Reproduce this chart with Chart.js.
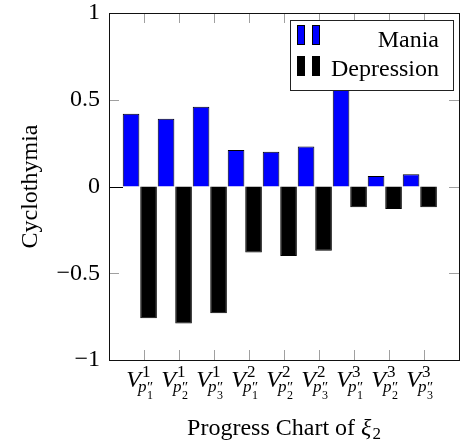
<!DOCTYPE html>
<html>
<head>
<meta charset="utf-8">
<script src="https://cdn.jsdelivr.net/npm/chart.js@4/dist/chart.umd.min.js"></script>
<style>
  body { margin: 0; background: #fff; }
  canvas { display: block; }
</style>
</head>
<body>
<canvas id="myChart" width="463" height="443"></canvas>
<script>
// positions of the groups on the x axis, and the pieces of the tick labels V^sup_{p''_sub}
var positions = [1, 2, 3, 4, 5, 6, 7, 8, 9];
var tickSup = ['1', '1', '1', '2', '2', '2', '3', '3', '3'];
var tickSub = ['1', '2', '3', '1', '2', '3', '1', '2', '3'];

var mania = [0.42, 0.39, 0.46, 0.21, 0.20, 0.23, 0.62, 0.06, 0.07];
var depression = [-0.76, -0.79, -0.73, -0.38, -0.40, -0.37, -0.12, -0.13, -0.12];

var yTicks = [-1, -0.5, 0, 0.5, 1];

var FONT = '"Liberation Serif", "DejaVu Serif", serif';

function toPoints(values) {
    return positions.map(function (x, i) { return { x: x, y: values[i] }; });
}

// ticks, frame, axis labels and legend in the pgfplots look
var pgfLook = {
    id: 'pgfLook',
    afterDatasetsDraw: function (chart) {
        var ctx = chart.ctx, a = chart.chartArea;
        var xs = chart.scales.x, ys = chart.scales.y;
        var L = Math.round(a.left), R = Math.round(a.right), T = Math.round(a.top), B = Math.round(a.bottom);
        ctx.save();
        ctx.lineWidth = 1;
        ctx.strokeStyle = '#a0a0a0';
        ctx.beginPath();
        yTicks.forEach(function (v) {
            if (v === -1 || v === 1) return;
            var y = Math.round(ys.getPixelForValue(v)) + 0.5;
            ctx.moveTo(R - 10, y); ctx.lineTo(R, y);
            if (v !== 0) { ctx.moveTo(L, y); ctx.lineTo(L + 10, y); }
        });
        positions.forEach(function (p) {
            var x = Math.round(xs.getPixelForValue(p)) + 4.5;
            ctx.moveTo(x, T); ctx.lineTo(x, T + 10);
            ctx.moveTo(x, B); ctx.lineTo(x, B - 10);
        });
        ctx.stroke();
        // zero tick on the left
        var y0 = Math.round(ys.getPixelForValue(0)) + 0.5;
        ctx.strokeStyle = '#000';
        ctx.beginPath();
        ctx.moveTo(L, y0); ctx.lineTo(L + 14, y0);
        ctx.stroke();
        // frame
        ctx.strokeStyle = '#111';
        ctx.strokeRect(L + 0.5, T + 0.5, R - L, B - T);

        // x tick labels
        ctx.fillStyle = '#000';
        ctx.textBaseline = 'alphabetic';
        ctx.textAlign = 'left';
        positions.forEach(function (p, i) {
            var cx = xs.getPixelForValue(p);
            var by = B + 27;
            ctx.font = 'italic 24px ' + FONT;
            var vw = ctx.measureText('V').width;
            ctx.font = '17px ' + FONT;
            var supW = ctx.measureText(tickSup[i]).width;
            ctx.font = 'italic 17px ' + FONT;
            var pw = ctx.measureText('p').width;
            ctx.font = '15px ' + FONT;
            var prW = ctx.measureText('\u2033').width;
            ctx.font = '12px ' + FONT;
            var ssW = ctx.measureText(tickSub[i]).width;
            var w = vw + Math.max(1 + supW, -3 + pw + 0.5 + Math.max(prW, ssW));
            var x0 = cx - w / 2;
            ctx.font = 'italic 24px ' + FONT;
            ctx.fillText('V', x0, by);
            ctx.font = '17px ' + FONT;
            ctx.fillText(tickSup[i], x0 + vw + 1, by - 10);
            var px = x0 + vw - 3;
            ctx.font = 'italic 17px ' + FONT;
            ctx.fillText('p', px, by + 5);
            ctx.font = '15px ' + FONT;
            ctx.fillText('\u2033', px + pw + 0.5, by + 5);
            ctx.font = '12px ' + FONT;
            ctx.fillText(tickSub[i], px + pw + 0.5, by + 12);
        });

        // x axis title: Progress Chart of xi_2
        var t1 = 'Progress Chart of ';
        ctx.font = '24px ' + FONT;
        var w1 = ctx.measureText(t1).width;
        ctx.font = 'italic 24px ' + FONT;
        var w2 = ctx.measureText('\u03be').width;
        ctx.font = '17px ' + FONT;
        var w3 = ctx.measureText('2').width;
        var tx = (L + R) / 2 - (w1 + w2 + 1 + w3) / 2, ty = 435;
        ctx.font = '24px ' + FONT;
        ctx.fillText(t1, tx, ty);
        ctx.font = 'italic 24px ' + FONT;
        ctx.fillText('\u03be', tx + w1, ty);
        ctx.font = '17px ' + FONT;
        ctx.fillText('2', tx + w1 + w2 + 1, ty + 4);

        // y axis title
        ctx.save();
        ctx.translate(37, (T + B) / 2);
        ctx.rotate(-Math.PI / 2);
        ctx.textAlign = 'center';
        ctx.font = '24px ' + FONT;
        ctx.fillText('Cyclothymia', 0, 0);
        ctx.restore();
        ctx.restore();
    },
    afterDraw: function (chart) {
        var ctx = chart.ctx;
        ctx.save();
        ctx.fillStyle = '#fff';
        ctx.fillRect(290, 20, 164, 71);
        ctx.strokeStyle = '#222';
        ctx.lineWidth = 1;
        ctx.strokeRect(290.5, 20.5, 163, 70);
        chart.data.datasets.forEach(function (ds, r) {
            var top = 25 + r * 31;
            [297, 312].forEach(function (x) {
                ctx.fillStyle = ds.backgroundColor;
                ctx.fillRect(x, top, 8, 20);
                ctx.strokeStyle = '#000';
                ctx.strokeRect(x + 0.5, top + 0.5, 7, 19);
            });
            ctx.fillStyle = '#000';
            ctx.font = '24px ' + FONT;
            ctx.textAlign = 'right';
            ctx.textBaseline = 'alphabetic';
            ctx.fillText(ds.label, 439, 46.5 + r * 29.5);
        });
        ctx.restore();
    }
};

var ctx = document.getElementById('myChart');

var chartGraph = new Chart(ctx, {
    type: 'bar',
    data: {
        datasets: [{
            label: 'Mania',
            data: toPoints(mania),
            backgroundColor: '#0000ff',
            borderColor: '#000',
            borderWidth: 1
        }, {
            label: 'Depression',
            data: toPoints(depression),
            backgroundColor: '#000000',
            borderColor: '#000',
            borderWidth: 1
        }]
    },
    options: {
        responsive: false,
        animation: false,
        categoryPercentage: 1,
        barPercentage: 0.95,
        layout: { padding: { top: 13, right: 4, bottom: 83, left: 0 } },
        plugins: {
            legend: { display: false },
            tooltip: { enabled: false }
        },
        scales: {
            x: {
                type: 'linear',
                display: false,
                offset: false,
                min: 0.12,
                max: 10.12
            },
            y: {
                min: -1,
                max: 1,
                afterFit: function (scale) {
                    scale.width = 109;
                    scale.paddingTop = 0;
                    scale.paddingBottom = 0;
                },
                afterBuildTicks: function (scale) {
                    scale.ticks = yTicks.map(function (v) { return { value: v }; });
                },
                grid: { display: false, drawTicks: false },
                border: { display: false },
                ticks: {
                    padding: 9,
                    color: '#000',
                    font: { family: FONT, size: 24, lineHeight: 1 },
                    callback: function (v) { return String(v).replace('-', '\u2212'); }
                }
            }
        }
    },
    plugins: [pgfLook]
});
</script>
</body>
</html>
